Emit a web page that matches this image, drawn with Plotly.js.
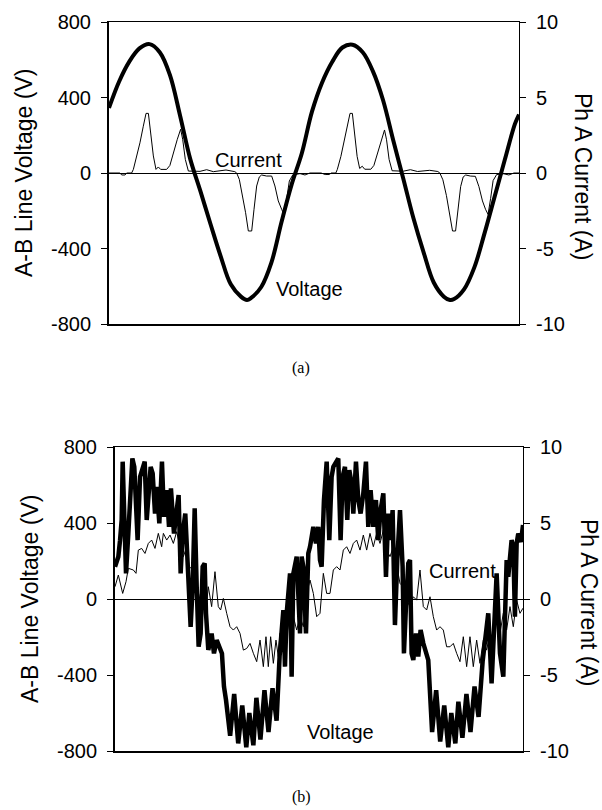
<!DOCTYPE html>
<html>
<head>
<meta charset="utf-8">
<script src="https://cdn.plot.ly/plotly-3.0.1.min.js"></script>
<style>html,body{margin:0;padding:0;background:#fff;}#chart{width:602px;height:810px;}</style>
</head>
<body>
<div id="chart"></div>
<script>
// ---------- Data (a): time in ms ----------
var tVa = [0,1,2,3,4,5,6,7,8,9,10,11,12,13,13.6,14,15,16,17,18,19,20,21,22,23,24,25,26,27,28,29,30,31,32,33,33.6,34,35,36,37,38,39,40,40.4];
var Va  = [345,485,590,660,683,640,520,305,75,-95,-270,-440,-590,-655,-673,-662,-604,-475,-260,-60,105,325,480,590,665,680,640,540,387,175,-30,-240,-420,-580,-655,-673,-668,-615,-500,-320,-125,70,260,310];

var tIa = [0,1.08,1.25,1.58,1.74,2.23,2.40,2.73,3.05,3.38,3.65,3.88,4.04,4.37,4.63,4.86,5.09,5.68,6.0,6.34,6.73,7.06,7.26,7.52,7.82,8.97,9.62,10.28,11.53,12.4,12.58,12.84,13.17,13.46,13.73,14.06,14.29,14.55,14.81,15.04,15.53,16.03,16.35,16.68,17.01,17.24,17.5,17.77,18.1,18.82,19.31,19.8,
           20.9,21.3,21.7,21.9,22.35,22.5,22.85,23.15,23.5,23.75,23.98,24.15,24.45,24.7,24.95,25.2,25.8,26.1,26.45,26.85,27.15,27.35,27.6,27.9,29.0,29.7,30.4,31.6,32.4,32.6,32.9,33.25,33.55,33.85,34.15,34.4,34.65,34.9,35.15,35.6,36.1,36.45,36.8,37.1,37.35,37.6,37.85,38.2,38.9,39.4,39.9,40.4];
var Ia  = [0,0,-0.13,-0.13,0,0,0.24,1.13,2.0,3.1,3.95,3.95,2.9,1.13,0.24,0.4,0.24,0.24,0.5,1.35,2.23,2.9,2.23,0.9,0.13,0.11,0.22,0.09,0.2,0.09,0,-0.42,-1.52,-2.63,-3.84,-3.84,-2.4,-0.86,-0.26,-0.13,-0.2,-0.2,-0.86,-1.85,-2.4,-2.74,-1.74,-0.53,-0.13,-0.04,-0.13,0,
           0,-0.1,-0.1,0,0,0.24,1.1,2.0,3.1,3.95,3.95,2.9,1.1,0.3,0.45,0.25,0.25,0.5,1.3,2.2,2.85,2.2,0.9,0.15,0.12,0.22,0.1,0.18,0.1,0,-0.45,-1.5,-2.6,-3.84,-3.84,-2.4,-0.9,-0.26,-0.13,-0.2,-0.22,-0.9,-1.85,-2.4,-2.74,-1.7,-0.5,-0.1,-0.05,-0.13,0,0];

// ---------- Data (b) ----------
var tVb = [0,0.33,0.50,0.66,0.76,0.89,1.09,1.32,1.55,1.72,1.91,2.08,2.24,2.48,2.74,2.94,3.14,3.33,3.53,3.73,3.96,4.13,4.39,4.65,4.85,5.12,5.35,5.54,5.84,6.11,6.30,6.50,6.70,6.96,7.16,7.36,7.49,7.69,7.89,8.09,8.28,8.48,8.68,8.88,9.01,9.24,9.57,9.80,10.07,10.33,10.59,10.79,10.99,
           11.4,11.8,12.2,12.6,13.0,13.3,13.7,14.0,14.4,14.8,15.2,15.6,16.0,16.3,16.67,16.83,17.0,17.33,17.49,17.66,17.99,18.32,18.48,18.65,18.91,19.14,19.31,19.64,19.9,20.13,20.3,20.46,20.69,20.96,21.22,21.45,21.62,21.88,22.11,22.34,22.54,22.77,23.0,23.2,23.43,23.6,23.86,24.09,24.32,24.59,24.85,25.08,25.31,25.58,25.84,26.07,26.3,26.57,26.83,27.06,27.29,27.49,27.72,27.95,28.22,28.48,28.61,28.81,29.04,29.21,29.37,29.54,29.8,30.03,30.26,30.53,30.79,31.02,
           31.4,31.8,32.2,32.6,33.0,33.3,33.7,34.0,34.4,34.8,35.2,35.6,36.0,36.4,36.96,37.29,37.79,38.12,38.45,38.78,38.94,39.27,39.44,39.6,39.77,39.93,40.2,40.4];
var Vb  = [170,223,310,416,723,468,135,345,590,740,696,520,310,643,696,723,416,573,696,661,450,590,398,723,433,573,380,582,345,468,547,135,345,450,240,-5,-146,65,477,65,-251,-181,170,188,-75,-268,-181,-286,-216,-251,-286,-461,-531,
           -720,-500,-760,-560,-780,-600,-770,-520,-740,-480,-700,-470,-640,-300,-58,-356,-75,135,-409,135,223,-181,223,170,-181,240,275,380,293,380,205,170,521,723,310,643,696,723,740,310,643,696,416,679,608,450,723,521,450,556,723,380,573,380,521,310,468,556,117,450,310,468,-137,205,468,170,-286,-40,188,205,-286,-321,-181,-303,-163,-233,-286,-321,
           -700,-480,-750,-560,-780,-600,-760,-540,-730,-500,-700,-460,-620,-330,-75,-444,135,-286,-409,205,117,310,275,-93,293,345,300,390];

var tIb = [0,0.33,0.76,1.09,1.32,1.82,2.08,2.31,2.64,2.97,3.3,3.63,3.96,4.29,4.62,4.79,5.12,5.45,5.78,6.11,6.44,6.77,7.1,7.36,7.69,8.09,8.42,8.75,9.01,9.24,9.57,9.9,10.23,10.46,10.73,11.06,11.39,11.72,12.05,12.38,12.71,13.04,13.37,13.7,14.03,14.36,14.69,14.95,15.18,15.41,15.68,15.94,16.17,16.34,16.67,17.0,17.33,17.66,17.99,18.32,18.65,18.98,19.31,19.64,19.97,20.3,20.63,20.96,21.29,21.62,21.95,22.28,22.61,22.94,23.27,23.6,23.93,24.26,24.59,24.92,25.25,25.58,25.91,26.24,26.57,26.9,27.23,27.56,27.89,28.22,28.55,28.88,29.21,29.54,29.87,30.2,30.53,30.86,31.19,31.52,31.85,32.18,32.51,32.84,33.17,33.5,33.83,34.16,34.49,34.82,35.15,35.48,35.81,36.14,36.47,36.8,37.13,37.46,37.79,38.12,38.45,38.78,39.11,39.44,39.77,40.1,40.4];
var Ib  = [0.81,1.58,0.37,1.14,2.02,1.91,1.69,3.22,3.33,3.0,3.66,3.88,3.33,4.32,3.44,4.32,3.88,4.21,3.66,4.43,3.44,2.79,3.44,2.02,2.13,0.81,-0.07,1.47,-0.72,0.81,-0.5,1.8,-0.5,-0.72,0.04,-0.94,-1.82,-2.04,-1.82,-2.26,-3.36,-3.25,-2.92,-3.57,-4.12,-2.7,-4.45,-2.48,-4.45,-2.48,-4.23,-2.7,-3.79,-2.26,-3.14,-0.94,-2.26,-1.16,-2.04,-1.16,-1.82,0.37,1.25,0.37,-1.16,-0.94,1.69,0.37,0.37,1.91,2.13,1.91,3.22,3.44,3.0,3.66,3.88,3.22,4.21,3.22,4.32,3.44,4.32,3.66,4.54,3.22,2.79,3.44,2.13,1.03,0.81,-0.07,-0.5,0.15,-0.07,1.91,-0.5,-0.72,0.15,-1.16,-2.04,-1.82,-2.04,-3.14,-3.14,-2.92,-3.57,-4.12,-2.48,-4.45,-2.48,-4.45,-2.7,-4.23,-2.7,-3.36,-2.26,-2.7,-1.16,-2.26,-0.94,-2.04,-0.5,-1.82,-0.07,-0.94,-0.6];

var vTicks = [-800,-400,0,400,800];
var iTicks = [-10,-5,0,5,10];

var SANS = "Liberation Sans, Arial, sans-serif";
var SERIF = "Liberation Serif, Times New Roman, serif";

var traces = [
  {x:tVa, y:Va, xaxis:'x', yaxis:'y', mode:'lines', line:{color:'#000', width:4, shape:'spline'}, hoverinfo:'skip'},
  {x:tIa, y:Ia, xaxis:'x', yaxis:'y2', mode:'lines', line:{color:'#000', width:1}, hoverinfo:'skip'},
  {x:tVb, y:Vb, xaxis:'x2', yaxis:'y3', mode:'lines', line:{color:'#000', width:4.5}, hoverinfo:'skip'},
  {x:tIb, y:Ib, xaxis:'x2', yaxis:'y4', mode:'lines', line:{color:'#000', width:1}, hoverinfo:'skip'}
];

function xax(domain, anchor){
  return {domain:domain, anchor:anchor, range:[0,40.4], showline:true, mirror:true, linecolor:'#000', linewidth:1.5,
          ticks:'', showticklabels:false, showgrid:false, zeroline:false, fixedrange:true};
}
function yLeft(domain, anchor){
  return {domain:domain, anchor:anchor, range:[-800,800], tickvals:vTicks, ticktext:vTicks.map(String),
          ticks:'outside', ticklen:6, tickwidth:1, tickcolor:'#000', showline:true, linecolor:'#000', linewidth:2,
          showgrid:false, zeroline:true, zerolinecolor:'#000', zerolinewidth:1, ticklabelstandoff:6,
          tickfont:{family:SANS, size:20, color:'#000'}, fixedrange:true};
}
function yRight(over, anchor){
  return {overlaying:over, anchor:anchor, side:'right', range:[-10,10], tickvals:iTicks, ticktext:iTicks.map(String),
          ticks:'outside', ticklen:6, tickwidth:1, tickcolor:'#000', showline:true, linecolor:'#000', linewidth:1,
          showgrid:false, zeroline:false, ticklabelstandoff:6, tickfont:{family:SANS, size:20, color:'#000'}, fixedrange:true};
}
function yInner(over, anchor, side, range, vals){
  return {overlaying:over, anchor:anchor, side:side, range:range, tickvals:vals, ticks:'inside', ticklen:5,
          tickwidth:1, tickcolor:'#000', showticklabels:false, showline:false, showgrid:false, zeroline:false, fixedrange:true};
}

var layout = {
  width:602, height:810, margin:{l:0,r:0,t:0,b:0}, showlegend:false,
  paper_bgcolor:'#fff', plot_bgcolor:'rgba(0,0,0,0)',
  xaxis: xax([109/602, 519/602], 'y'),
  yaxis: yLeft([0.6, 0.9728], 'x'),
  yaxis2: yRight('y', 'x'),
  yaxis5: yInner('y', 'x', 'left', [-800,800], [-400,400]),
  yaxis6: yInner('y', 'x', 'right', [-10,10], [-5,5]),
  xaxis2: xax([115/602, 523/602], 'y3'),
  yaxis3: yLeft([0.0728, 0.4481], 'x2'),
  yaxis4: yRight('y3', 'x2'),
  yaxis7: yInner('y3', 'x2', 'left', [-800,800], [-400,400]),
  yaxis8: yInner('y3', 'x2', 'right', [-10,10], [-5,5]),
  annotations: [
    {text:'A-B Line Voltage (V)', x:24/602, y:(810-173)/810, xref:'paper', yref:'paper', textangle:-90, showarrow:false, xanchor:'center', yanchor:'middle', font:{family:SANS, size:23, color:'#000'}},
    {text:'Ph A Current (A)', x:583/602, y:(810-176)/810, xref:'paper', yref:'paper', textangle:90, showarrow:false, xanchor:'center', yanchor:'middle', font:{family:SANS, size:23, color:'#000'}},
    {text:'A-B Line Voltage (V)', x:30/602, y:(810-599)/810, xref:'paper', yref:'paper', textangle:-90, showarrow:false, xanchor:'center', yanchor:'middle', font:{family:SANS, size:23, color:'#000'}},
    {text:'Ph A Current (A)', x:589/602, y:(810-602)/810, xref:'paper', yref:'paper', textangle:90, showarrow:false, xanchor:'center', yanchor:'middle', font:{family:SANS, size:23, color:'#000'}},
    {text:'Current', x:248/602, y:(810-160)/810, xref:'paper', yref:'paper', showarrow:false, xanchor:'center', yanchor:'middle', font:{family:SANS, size:20, color:'#000'}},
    {text:'Voltage', x:309/602, y:(810-289)/810, xref:'paper', yref:'paper', showarrow:false, xanchor:'center', yanchor:'middle', font:{family:SANS, size:20, color:'#000'}},
    {text:'Current', x:462/602, y:(810-571)/810, xref:'paper', yref:'paper', showarrow:false, xanchor:'center', yanchor:'middle', font:{family:SANS, size:20, color:'#000'}},
    {text:'Voltage', x:340/602, y:(810-732)/810, xref:'paper', yref:'paper', showarrow:false, xanchor:'center', yanchor:'middle', font:{family:SANS, size:20, color:'#000'}},
    {text:'(a)', x:0.5, y:(810-368)/810, xref:'paper', yref:'paper', showarrow:false, xanchor:'center', yanchor:'middle', font:{family:SERIF, size:16, color:'#000'}},
    {text:'(b)', x:0.5, y:(810-797)/810, xref:'paper', yref:'paper', showarrow:false, xanchor:'center', yanchor:'middle', font:{family:SERIF, size:16, color:'#000'}}
  ]
};

Plotly.newPlot('chart', traces, layout, {staticPlot:true, displayModeBar:false});
</script>
</body>
</html>
